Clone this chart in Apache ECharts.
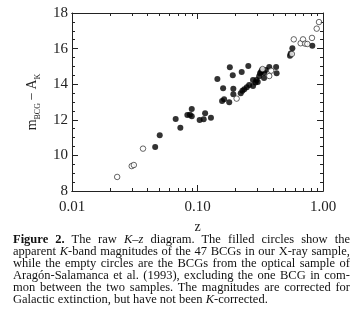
<!DOCTYPE html>
<html>
<head>
<meta charset="utf-8">
<script src="https://cdn.jsdelivr.net/npm/echarts@6/dist/echarts.min.js"></script>
<style>
  html, body { margin: 0; padding: 0; background: #fff; }
  #wrap { position: relative; width: 359px; height: 325px; overflow: hidden; }
  #chart { position: absolute; left: 0; top: 0; width: 359px; height: 325px; }
  #caption { position: absolute; left: 13px; top: 233px; width: 337px;
    font-family: "Liberation Serif", "DejaVu Serif", serif; font-size: 12.5px; line-height: 12px; color: #111; }
  #caption div { text-align: justify; text-align-last: justify; white-space: nowrap; }
  #caption div.last { text-align: left; text-align-last: left; }
</style>
</head>
<body>
<div id="wrap">
  <div id="chart"></div>
  <div id="caption">
    <div><b>Figure 2.</b> The raw <i>K–z</i> diagram. The filled circles show the</div>
    <div>apparent <i>K</i>-band magnitudes of the 47 BCGs in our X-ray sample,</div>
    <div>while the empty circles are the BCGs from the optical sample of</div>
    <div>Aragón-Salamanca et al. (1993), excluding the one BCG in com-</div>
    <div>mon between the two samples. The magnitudes are corrected for</div>
    <div class="last">Galactic extinction, but have not been <i>K</i>-corrected.</div>
  </div>
</div>
<script>
// ---- data ----
const filledZ = [0.046, 0.050, 0.067, 0.073, 0.083, 0.087, 0.090, 0.090, 0.104, 0.112,
  0.115, 0.128, 0.144, 0.160, 0.181, 0.191, 0.193, 0.193, 0.163, 0.157,
  0.179, 0.225, 0.254, 0.221, 0.228, 0.236, 0.247, 0.258, 0.277, 0.277,
  0.295, 0.302, 0.315, 0.327, 0.321, 0.340, 0.339, 0.373, 0.423, 0.427,
  0.546, 0.553, 0.570, 0.822, 0.310, 0.290, 0.350];
const filledMag = [10.47, 11.13, 12.04, 11.56, 12.27, 12.29, 12.61, 12.20, 11.99, 12.03,
  12.37, 12.12, 14.29, 13.77, 14.95, 14.50, 13.75, 13.43, 13.15, 13.06,
  12.98, 14.69, 15.02, 13.49, 13.63, 13.71, 13.83, 13.96, 13.90, 14.24,
  14.24, 14.12, 14.61, 14.80, 14.70, 14.65, 14.35, 14.97, 14.97, 14.61,
  15.60, 15.72, 16.02, 16.16, 14.45, 14.10, 14.80];
const openZ = [0.0229, 0.0299, 0.0311, 0.0368, 0.205, 0.330, 0.386, 0.373, 0.565,
  0.585, 0.664, 0.693, 0.720, 0.750, 0.817, 0.891, 0.929];
const openMag = [8.79, 9.40, 9.46, 10.38, 13.19, 14.85, 14.76, 14.46, 15.70,
  16.52, 16.30, 16.52, 16.28, 16.26, 16.60, 17.12, 17.49];
const xMajorTicks = [0.01, 0.1, 1];
const xMinorTicks = [0.02, 0.03, 0.04, 0.05, 0.06, 0.07, 0.08, 0.09,
  0.2, 0.3, 0.4, 0.5, 0.6, 0.7, 0.8, 0.9];
const yMin = 8, yMax = 18, yStep = 2;

const FONT = '"Liberation Serif", "DejaVu Serif", serif';
const INK = '#222';

const filledData = filledZ.map((z, i) => [z, filledMag[i]]);
const openData = openZ.map((z, i) => [z, openMag[i]]);

function xAxis(pos, major, withLabels) {
  return {
    type: 'log', logBase: 10, min: 0.01, max: 1, position: pos,
    axisLine: { show: true, onZero: false, lineStyle: { color: INK, width: 1 } },
    axisTick: { show: true, inside: true, length: major ? 6 : 3,
      customValues: major ? xMajorTicks : xMinorTicks, lineStyle: { color: INK } },
    axisLabel: withLabels ? { show: true, customValues: xMajorTicks, margin: 9,
      fontFamily: FONT, fontSize: 15, color: INK,
      formatter: v => Number(v).toFixed(2) } : { show: false },
    splitLine: { show: false },
    name: withLabels ? 'z' : '', nameLocation: 'middle', nameGap: 26,
    nameTextStyle: { fontFamily: FONT, fontSize: 14, color: INK }
  };
}
function yAxis(pos, withLabels) {
  return {
    type: 'value', min: yMin, max: yMax, interval: yStep, position: pos,
    axisLine: { show: true, onZero: false, lineStyle: { color: INK, width: 1 } },
    axisTick: { show: true, inside: true, length: 6, lineStyle: { color: INK } },
    minorTick: { show: true, splitNumber: 4, length: 3, lineStyle: { color: INK } },
    axisLabel: withLabels ? { show: true, margin: 4, fontFamily: FONT, fontSize: 15, color: INK } : { show: false },
    splitLine: { show: false }, minorSplitLine: { show: false },
    name: withLabels ? '{m|m}{s|BCG}{m|\u2009\u2212\u2009A}{s|K}' : '',
    nameLocation: 'middle', nameGap: 29,
    nameTextStyle: { fontFamily: FONT, color: INK,
      rich: {
        m: { fontFamily: FONT, fontSize: 14, color: INK, lineHeight: 20, verticalAlign: 'middle' },
        s: { fontFamily: FONT, fontSize: 8, color: INK, lineHeight: 12, verticalAlign: 'bottom' }
      } }
  };
}

const chart = echarts.init(document.getElementById('chart'), null, { renderer: 'canvas' });
chart.setOption({
  animation: false,
  backgroundColor: '#fff',
  grid: { left: 72, right: 36, top: 13, bottom: 134, containLabel: false },
  xAxis: [xAxis('bottom', true, true), xAxis('bottom', false, false),
          xAxis('top', true, false), xAxis('top', false, false)],
  yAxis: [yAxis('left', true), yAxis('right', false)],
  series: [
    { type: 'scatter', name: 'X-ray sample', xAxisIndex: 0, yAxisIndex: 0,
      data: filledData, symbol: 'circle', symbolSize: 6,
      itemStyle: { color: '#000' } },
    { type: 'scatter', name: 'Aragón-Salamanca et al. (1993)', xAxisIndex: 0, yAxisIndex: 0,
      data: openData, symbol: 'circle', symbolSize: 5.5,
      itemStyle: { color: '#fff', borderColor: '#111', borderWidth: 0.8 } }
  ]
});
</script>
</body>
</html>
